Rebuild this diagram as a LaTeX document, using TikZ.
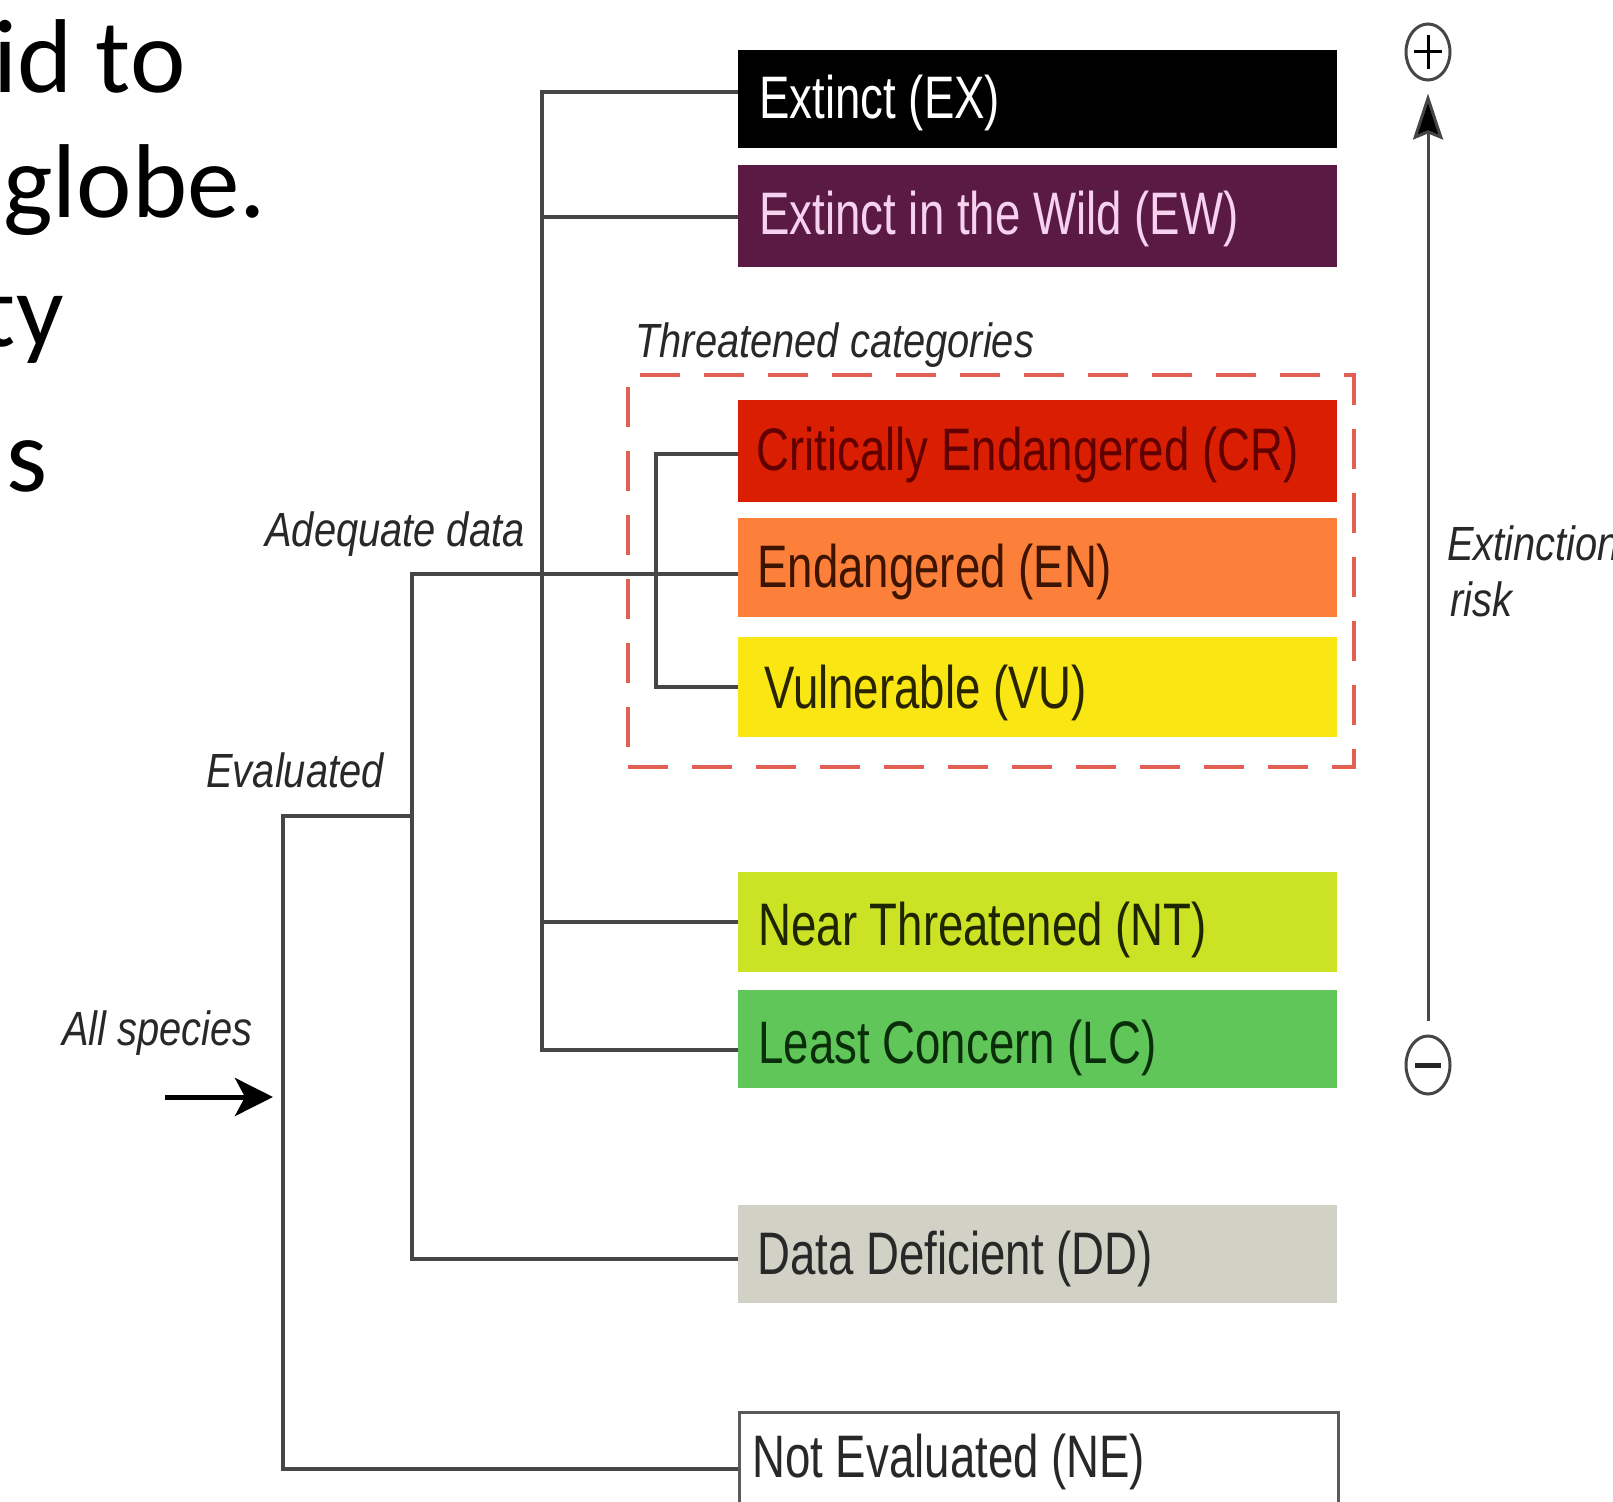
\documentclass[tikz,border=0pt]{standalone}
\usepackage{fontspec}
\usepackage{graphicx}
\setmainfont{Liberation Sans}
\newfontfamily\slidefont{Carlito}
\newfontfamily\catfont[FakeStretch=0.76]{Liberation Sans}
\newfontfamily\notefont[FakeStretch=0.83]{Liberation Sans}
\usetikzlibrary{arrows.meta,shapes.geometric}

% category colours
\definecolor{colEX}{RGB}{0,0,0}
\definecolor{colEW}{RGB}{90,26,68}
\definecolor{colCR}{RGB}{218,30,2}
\definecolor{colEN}{RGB}{252,127,58}
\definecolor{colVU}{RGB}{249,230,18}
\definecolor{colNT}{RGB}{204,226,36}
\definecolor{colLC}{RGB}{96,198,89}
\definecolor{colDD}{RGB}{209,209,198}
\definecolor{txtEW}{RGB}{246,210,238}
\definecolor{txtCR}{RGB}{96,0,0}
\definecolor{txtEN}{RGB}{60,20,0}
\definecolor{txtVU}{RGB}{40,36,0}
\definecolor{txtNT}{RGB}{30,38,0}
\definecolor{txtLC}{RGB}{10,46,10}
\definecolor{txtDark}{RGB}{40,40,40}
\definecolor{linegray}{RGB}{70,70,70}
\definecolor{boxgray}{RGB}{90,90,90}
\definecolor{threatred}{RGB}{226,96,84}

\begin{document}
\begin{tikzpicture}[x=0.5pt,y=-0.5pt,
  catbox/.style={rectangle, inner sep=0pt, minimum width=299.5pt, minimum height=50pt, anchor=north west},
  cattext/.style={font=\catfont\fontsize{30}{30}\selectfont, inner sep=0pt, anchor=base west},
  note/.style={font=\notefont\itshape\fontsize{24}{24}\selectfont, inner sep=0pt, text=txtDark},
  slide/.style={font=\slidefont\fontsize{52.5}{52.5}\selectfont, inner sep=0pt, text=black},
  branch/.style={draw=linegray, line width=2pt, line join=miter},
  threat/.style={draw=threatred, line width=2pt, dash pattern=on 20pt off 12pt, rectangle, inner sep=0pt},
  sign/.style={ellipse, draw=linegray, line width=1.5pt, minimum width=22pt, minimum height=28pt, inner sep=0pt},
  risk/.style={draw=linegray, line width=1.5pt}]

\useasboundingbox[fill=white] (0,0) rectangle (1613,1502);

% slide text on the left
\node[slide, anchor=base east] (l1) at (186,93) {id to};
\node[slide, anchor=base west] (l2) at (3,218) {globe.};
\node[slide, anchor=base east] (l3) at (64,347) {ty};
\node[slide, anchor=base west] (l4) at (6,492) {s};

% category boxes
\node[catbox, fill=colEX, minimum height=49pt] (EX) at (738,50) {};
\node[catbox, fill=colEW, minimum height=51pt] (EW) at (738,165) {};
\node[catbox, fill=colCR, minimum height=51pt] (CR) at (738,400) {};
\node[catbox, fill=colEN, minimum height=49.5pt] (EN) at (738,518) {};
\node[catbox, fill=colVU, minimum height=50pt] (VU) at (738,637) {};
\node[catbox, fill=colNT, minimum height=50pt] (NT) at (738,872) {};
\node[catbox, fill=colLC, minimum height=49pt] (LC) at (738,990) {};
\node[catbox, fill=colDD, minimum height=49pt] (DD) at (738,1205) {};
\node[catbox, fill=white, draw=boxgray, line width=1.5pt, minimum height=66pt] (NE) at (738,1411) {};

% category labels
\node[cattext, text=white] (tEX) at (759,119) {Extinct (EX)};
\node[cattext, text=txtEW] (tEW) at (759,235) {Extinct in the Wild (EW)};
\node[cattext, text=txtCR] (tCR) at (756,471) {Critically Endangered (CR)};
\node[cattext, text=txtEN] (tEN) at (757,588) {Endangered (EN)};
\node[cattext, text=txtVU] (tVU) at (764,709) {Vulnerable (VU)};
\node[cattext, text=txtNT] (tNT) at (758,945) {Near Threatened (NT)};
\node[cattext, text=txtLC] (tLC) at (758,1063) {Least Concern (LC)};
\node[cattext, text=txtDark] (tDD) at (757,1274) {Data Deficient (DD)};
\node[cattext, text=txtDark] (tNE) at (752,1477) {Not Evaluated (NE)};

% threatened group frame
\node[threat, minimum width=363pt, minimum height=196pt] (TH) at (991,571) {};
\node[note, anchor=base west] (tTH) at (635,358) {Threatened categories};

% branching points of the tree
\coordinate (evTop) at (283,816);
\coordinate (evBot) at (283,1469);
\coordinate (root)  at (283,1097);
\coordinate (adTop) at (412,574);
\coordinate (evJ)   at (412,816);
\coordinate (adBot) at (412,1259);
\coordinate (exJ)   at (542,92);
\coordinate (ewJ)   at (542,217);
\coordinate (ntJ)   at (542,922);
\coordinate (lcJ)   at (542,1050);
\coordinate (crJ)   at (656,454);
\coordinate (vuJ)   at (656,687);
\coordinate (asIn)  at (165,1097);

% tree connectors
\draw[branch] (evJ) -- (evTop) -- (evBot) -- (evBot -| NE.west);
\draw[branch] (adTop -| EN.west) -- (adTop) -- (adBot) -- (adBot -| DD.west);
\draw[branch] (exJ -| EX.west) -- (exJ) -- (lcJ) -- (lcJ -| LC.west);
\draw[branch] (ewJ) -- (ewJ -| EW.west);
\draw[branch] (ntJ) -- (ntJ -| NT.west);
\draw[branch] (crJ -| CR.west) -- (crJ) -- (vuJ) -- (vuJ -| VU.west);

% incoming arrow
\draw[draw=black, line width=2.5pt, -{Stealth[length=19pt, width=19pt, inset=5pt]}, shorten >=5pt] (asIn) -- (root);

% branch labels
\node[note, anchor=base east] (lAD) at (525,547) {Adequate data};
\node[note, anchor=base east] (lEV) at (384,788) {Evaluated};
\node[note, anchor=base east] (lAS) at (253,1045) {All species};

% extinction risk scale
\node[sign] (plus) at (1428,52) {};
\node[sign, minimum height=29pt] (minus) at (1428,1065) {};
\draw[line width=1.5pt, draw=black] ([xshift=-7pt]plus.center) -- ([xshift=7pt]plus.center);
\draw[line width=1.5pt, draw=black] ([yshift=-8.5pt]plus.center) -- ([yshift=8.5pt]plus.center);
\draw[line width=2.5pt, draw=black!85] ([xshift=-6.5pt]minus.center) -- ([xshift=6.5pt]minus.center);
\draw[risk, -{Stealth[length=23pt, width=15pt, inset=3pt, fill=black]}, shorten <=7pt, shorten >=6pt] (minus.north) -- (plus.south);
\node[note, anchor=base west] (lEX) at (1447,561) {Extinction};
\node[note, anchor=base west] (lRK) at (1450,617) {risk};

\end{tikzpicture}
\end{document}
